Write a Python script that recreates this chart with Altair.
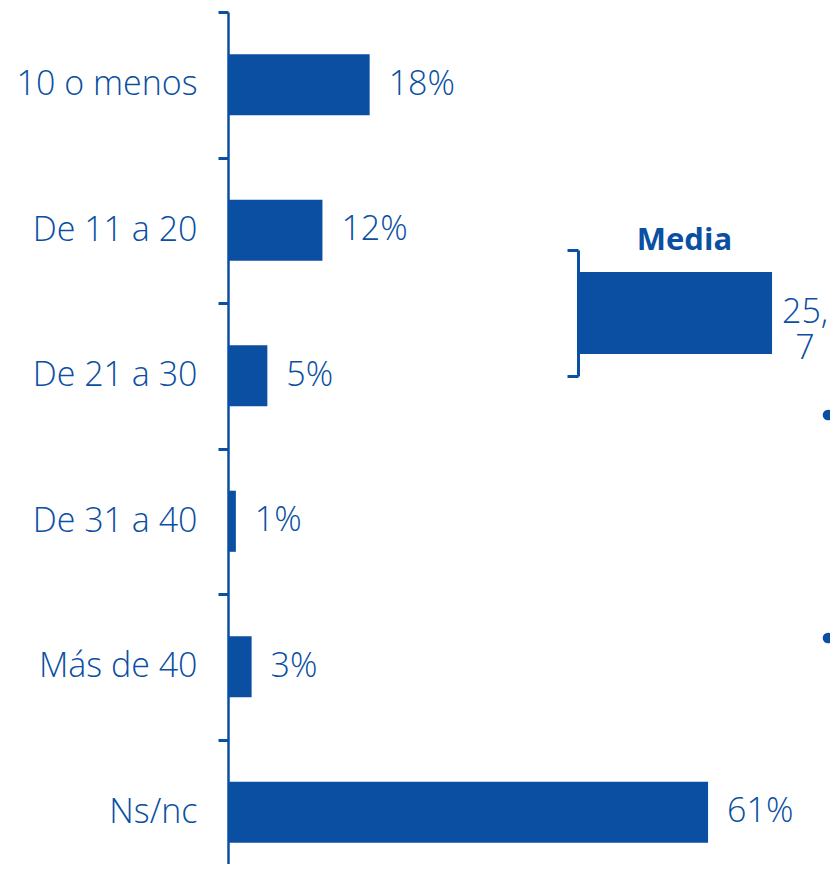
import altair as alt
import pandas as pd

# ---- data ----
categories = ["10 o menos", "De 11 a 20", "De 21 a 30", "De 31 a 40", "Más de 40", "Ns/nc"]
values = [18, 12, 5, 1, 3, 61]
value_labels = [f"{v}%" for v in values]

media_title = ["Media"]
media_value = [25.7]
media_labels = [f"{v}".replace(".", ",\n") for v in media_value]

# ---- style ----
COLOR = "#0a4fa2"
FONT = "Open Sans"

df = pd.DataFrame({"cat": categories, "val": values, "lab": value_labels})
mdf = pd.DataFrame({"lab": media_title, "val": media_value, "txt": media_labels})

# main chart
y_main = alt.Y(
    "cat:N", sort=categories, title=None,
    scale=alt.Scale(range=[0, 873], paddingInner=0, paddingOuter=0),
    axis=alt.Axis(orient="left", tickBand="extent", tickSize=10, tickWidth=3,
                  tickColor=COLOR, domainColor=COLOR, domainWidth=2.5,
                  labelFont=FONT, labelFontSize=34, labelFontWeight=300,
                  labelColor=COLOR, labelPadding=21, labelLimit=400),
)
x_main = alt.X("val:Q", axis=None, scale=alt.Scale(domain=[0, 100], range=[0, 787]))

base = alt.Chart(df).encode(x=x_main, y=y_main)
bars = base.mark_bar(color=COLOR, height={"band": 0.42})
texts = base.mark_text(align="left", baseline="middle", dx=19, font=FONT,
                       fontSize=34, fontWeight=300, color=COLOR).encode(text="lab:N")
main = alt.layer(bars, texts)

# media chart
y_media = alt.Y(
    "lab:N", title=None,
    scale=alt.Scale(range=[238, 364], paddingInner=0, paddingOuter=0),
    axis=alt.Axis(orient="left", offset=-350, labels=False, tickBand="extent",
                  tickSize=11, tickWidth=3, tickColor=COLOR, domainColor=COLOR,
                  domainWidth=3),
)
x_media = alt.X(
    "val:Q", scale=alt.Scale(domain=[0, 30], range=[350, 576.5]),
    axis=alt.Axis(orient="top", domain=False, ticks=False, labels=False, grid=False,
                  title="Media", titleFont=FONT, titleFontSize=31, titleFontWeight="bold",
                  titleColor=COLOR, titleX=456, titleY=237, titleAlign="center",
                  titleBaseline="alphabetic", titleAngle=0),
)
mbase = alt.Chart(mdf).encode(x=x_media, y=y_media)
mbar = mbase.mark_bar(color=COLOR, height={"band": 0.65})
mtext = mbase.mark_text(align="center", baseline="middle", dx=33, lineBreak="\n",
                        lineHeight=36, font=FONT, fontSize=34, fontWeight=300,
                        color=COLOR).encode(text="txt:N")
media = alt.layer(mbar, mtext)

# list bullets of the cut-off text on the right
b1 = alt.Chart(mdf).mark_circle(size=113, color=COLOR, opacity=1).encode(
    x=alt.value(600), y=alt.value(403))
b2 = alt.Chart(mdf).mark_circle(size=113, color=COLOR, opacity=1).encode(
    x=alt.value(600), y=alt.value(626))

chart = (
    alt.layer(main, media, b1, b2)
    .resolve_scale(x="independent", y="independent")
    .resolve_axis(x="independent", y="independent")
    .properties(width=602, height=852,
                padding={"left": 220, "top": 4, "right": 0, "bottom": 0},
                autosize=alt.AutoSizeParams(type="none"))
    .configure_view(stroke=None)
)

chart.save("out.html", embed_options={"renderer": "svg", "actions": False})
